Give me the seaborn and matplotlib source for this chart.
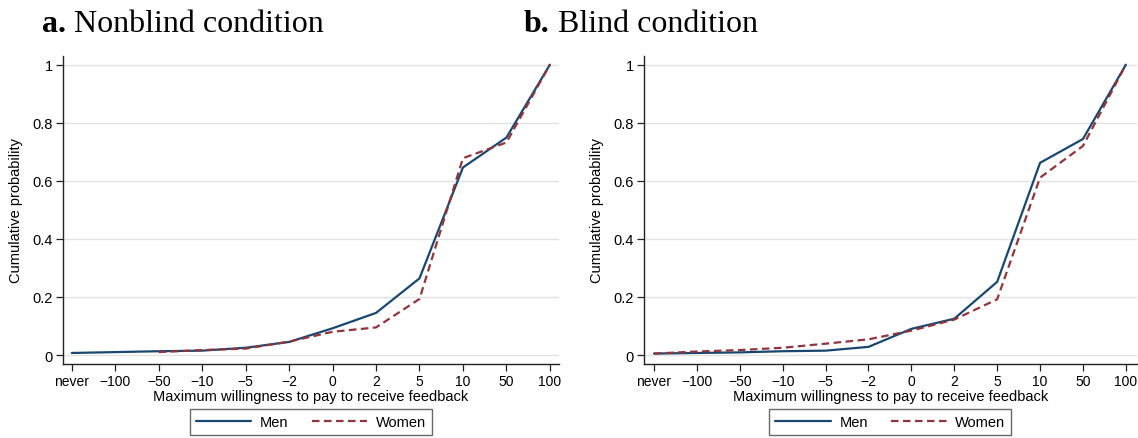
import numpy as np
import pandas as pd
import matplotlib
matplotlib.use("Agg")
import matplotlib.pyplot as plt
import seaborn as sns

categories = ["never", "\u2212100", "\u221250", "\u221210", "\u22125", "\u22122", "0", "2", "5", "10", "50", "100"]
yticks = [0, 0.2, 0.4, 0.6, 0.8, 1.0]
ytick_labels = ["0", "0.2", "0.4", "0.6", "0.8", "1"]

nonblind_men = [0.007, 0.010, 0.013, 0.015, 0.025, 0.045, 0.092, 0.145, 0.264, 0.646, 0.749, 1.0]
nonblind_women = [np.nan, np.nan, 0.010, 0.017, 0.022, 0.046, 0.080, 0.095, 0.193, 0.678, 0.732, 1.0]
blind_men = [0.005, 0.007, 0.009, 0.013, 0.015, 0.028, 0.090, 0.125, 0.252, 0.662, 0.744, 1.0]
blind_women = [0.005, 0.012, 0.017, 0.025, 0.039, 0.054, 0.084, 0.122, 0.192, 0.611, 0.720, 1.0]

titles = [("a.", " Nonblind condition"), ("b.", " Blind condition")]
xlabel = "Maximum willingness to pay to receive feedback"
ylabel = "Cumulative probability"
series_names = ["Men", "Women"]

sns.set_theme(style="white")
plt.rcParams["font.family"] = ["Liberation Sans", "DejaVu Sans"]
plt.rcParams["text.color"] = "black"
plt.rcParams["axes.labelcolor"] = "black"

colors = {"Men": "#1a476f", "Women": "#90353b"}
women_dash = (3.4, 2.0)
dashes = {"Men": "", "Women": women_dash}

def make_df(men, women):
    rows = []
    for i, (m, w) in enumerate(zip(men, women)):
        rows.append({"x": i, "y": m, "sex": "Men"})
        rows.append({"x": i, "y": w, "sex": "Women"})
    return pd.DataFrame(rows).dropna()

fig = plt.figure(figsize=(11.38, 4.39), dpi=100)
ax_pos = [
    [62.5 / 1138, 1 - 365 / 439, (559 - 62.5) / 1138, (365 - 57) / 439],
    [643.5 / 1138, 1 - 365 / 439, (1137 - 643.5) / 1138, (365 - 57) / 439],
]
xlims = [(-0.214, 11.21), (-0.245, 11.26)]
data = [(nonblind_men, nonblind_women), (blind_men, blind_women)]
title_x = [42, 524]
tfs = 23

for k in range(2):
    ax = fig.add_axes(ax_pos[k])
    df = make_df(*data[k])
    sns.lineplot(data=df, x="x", y="y", hue="sex", style="sex", palette=colors,
                 dashes=dashes, linewidth=1.6, ax=ax, legend=False,
                 hue_order=series_names, style_order=series_names)
    ax.set_xlim(*xlims[k])
    ax.set_ylim(-0.031, 1.03)
    ax.set_xticks(range(len(categories)))
    ax.set_xticklabels(categories, fontsize=10)
    ax.set_yticks(yticks)
    ax.set_yticklabels(ytick_labels, fontsize=10.5)
    ax.grid(axis="y", color="#e2e2e2", linewidth=1.0)
    ax.set_axisbelow(True)
    for s in ["top", "right"]:
        ax.spines[s].set_visible(False)
    for s in ["left", "bottom"]:
        ax.spines[s].set_color("#222222")
        ax.spines[s].set_linewidth(1.0)
    ax.tick_params(axis="both", which="major", length=5, width=0.9, color="#222222",
                   bottom=True, left=True, pad=2, labelcolor="black")
    ax.set_xlabel(xlabel, fontsize=10.5, labelpad=1)
    ax.set_ylabel(ylabel, fontsize=10.5, labelpad=7)
    # legend
    handles = [
        matplotlib.lines.Line2D([], [], color=colors["Men"], linewidth=1.6),
        matplotlib.lines.Line2D([], [], color=colors["Women"], linewidth=1.6, dashes=women_dash),
    ]
    leg = ax.legend(handles, series_names, loc="center", ncol=2,
                    bbox_to_anchor=(0.5, (1 - 423 / 439 - ax_pos[k][1]) / ax_pos[k][3]),
                    frameon=True, fancybox=False, fontsize=10.5, handlelength=3.8,
                    columnspacing=1.6, borderpad=0.4, handletextpad=0.6, borderaxespad=0)
    leg.get_frame().set_edgecolor("#444444")
    leg.get_frame().set_linewidth(1.0)
    # title
    fig.text(title_x[k] / 1138, 1 - 25 / 439, titles[k][0], fontsize=tfs, fontweight="bold",
             family=["Liberation Serif"], va="center", ha="left", color="black")
    t0 = fig.text(0, 0, titles[k][0], fontsize=tfs, fontweight="bold", family=["Liberation Serif"])
    fig.canvas.draw()
    bb = t0.get_window_extent()
    t0.remove()
    fig.text(title_x[k] / 1138 + bb.width / 1138, 1 - 25 / 439, titles[k][1], fontsize=tfs,
             family=["Liberation Serif"], va="center", ha="left", color="black")

fig.savefig("out.png", dpi=100)
